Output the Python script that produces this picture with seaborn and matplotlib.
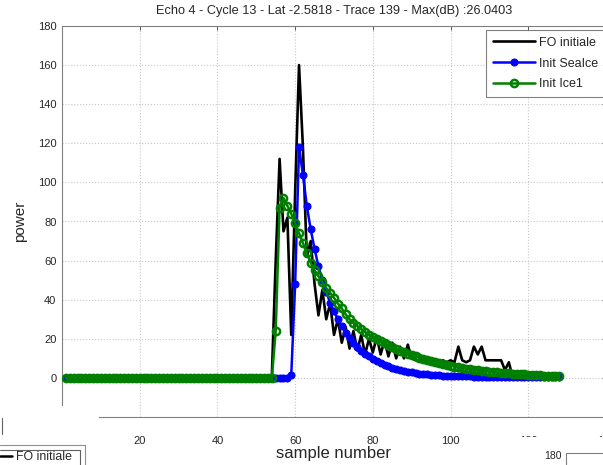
import numpy as np
import pandas as pd
import matplotlib
matplotlib.use("Agg")
import matplotlib.pyplot as plt
import seaborn as sns
from matplotlib.patches import Rectangle
from matplotlib.lines import Line2D

# data (samples 1..128)
samples = list(range(1, 129))

fo_initiale = [
    0, 0, 0, 0, 0, 0, 0, 0, 0, 0, 0, 0, 0, 0, 0, 0, 0, 0, 0, 0,
    0, 0, 0, 0, 0, 0, 0, 0, 0, 0, 0, 0, 0, 0, 0, 0, 0, 0, 0, 0,
    0, 0, 0, 0, 0, 0, 0, 0, 0, 0, 0, 0, 0,
    1, 60, 112, 75, 82, 22, 95, 160, 118, 62, 70, 48, 32, 45, 30, 38,
    22, 30, 18, 26, 15, 24, 14, 22, 12, 20, 13, 21, 12, 19, 11, 18,
    10, 16, 10, 17, 10, 9, 9, 9, 9, 10, 9, 8, 9, 8, 9, 8,
    16, 9, 8, 9, 16, 12, 16, 9, 9, 9, 9, 9, 4, 8, 0,
    0, 0, 0, 0, 0, 0, 0, 0, 0, 0, 0, 0,
]

init_seaice = [
    0, 0, 0, 0, 0, 0, 0, 0, 0, 0, 0, 0, 0, 0, 0, 0, 0, 0, 0, 0,
    0, 0, 0, 0, 0, 0, 0, 0, 0, 0, 0, 0, 0, 0, 0, 0, 0, 0, 0, 0,
    0, 0, 0, 0, 0, 0, 0, 0, 0, 0, 0, 0, 0, 0, 0, 0, 0, 0,
    1.5, 48, 118, 104, 88, 76, 66, 57, 50, 44, 38.5, 34, 30, 26.5,
    23, 20.5, 18, 16, 14, 12.4, 11, 9.7, 8.6, 7.6, 6.7, 5.9, 5.2,
    4.6, 4.1, 3.6, 3.2, 2.8, 2.5, 2.2, 2.0, 1.8, 1.6, 1.4, 1.3,
    1.2, 1.1, 1.0,
    0.9, 0.9, 0.8, 0.8, 0.8, 0.7, 0.7, 0.7, 0.7, 0.6, 0.6, 0.6,
    0.6, 0.6, 0.5, 0.5, 0.5, 0.5, 0.5, 0.5, 0.5, 0.5, 0.4, 0.4,
    0.4, 0.4, 0.4, 0.4,
]

init_ice1 = [
    0, 0, 0, 0, 0, 0, 0, 0, 0, 0, 0, 0, 0, 0, 0, 0, 0, 0, 0, 0,
    0, 0, 0, 0, 0, 0, 0, 0, 0, 0, 0, 0, 0, 0, 0, 0, 0, 0, 0, 0,
    0, 0, 0, 0, 0, 0, 0, 0, 0, 0, 0, 0, 0, 0,
    24, 87, 92, 88, 84, 79, 74, 69, 64, 59, 55, 52, 49, 46, 43.5,
    41, 38, 35.5, 32.5, 30, 28, 26.5, 25, 23.5, 22, 21, 19.8, 18.7,
    17.7, 16.7, 15.7, 14.8, 14, 13.2, 12.4, 11.7, 11, 10.4, 9.8,
    9.2, 8.6, 8.1, 7.6, 7.1, 6.6, 6.2, 5.8, 5.4, 5.1, 4.8, 4.5,
    4.2, 3.9, 3.6, 3.4, 3.2, 3.0, 2.8, 2.6, 2.4, 2.3, 2.1, 2.0,
    1.9, 1.8, 1.6, 1.5, 1.4, 1.3, 1.2, 1.1, 1.0, 0.9, 0.8,
]

x_ticks = [20, 40, 60, 80, 100, 120, 140]
y_ticks = [0, 20, 40, 60, 80, 100, 120, 140, 160, 180]
title = "Echo 4 - Cycle 13 - Lat -2.5818 - Trace 139 - Max(dB) :26.0403"

df = pd.DataFrame({
    "sample": samples,
    "FO initiale": fo_initiale,
    "Init SeaIce": init_seaice,
    "Init Ice1": init_ice1,
})

sns.set_theme(style="white")
plt.rcParams["font.family"] = ["Liberation Sans", "DejaVu Sans"]

W, H = 603, 465
fig = plt.figure(figsize=(W / 100, H / 100), dpi=100)
fig.patch.set_facecolor("white")


def fx(x):
    return x / W


def fy(y):
    return 1 - y / H


# axes box (right edge runs a little past the picture, like the reference)
ax = fig.add_axes([fx(62), fy(417), fx(606) - fx(62), fy(26) - fy(417)])

sns.lineplot(data=df, x="sample", y="FO initiale", ax=ax, color="black",
             linewidth=1.9, label="FO initiale", zorder=3)
sns.lineplot(data=df, x="sample", y="Init SeaIce", ax=ax, color="#0000ff",
             linewidth=1.8, marker="o", markersize=5, markeredgewidth=0.8,
             markeredgecolor="#0000ff", label="Init SeaIce", zorder=4)
sns.lineplot(data=df, x="sample", y="Init Ice1", ax=ax, color="#008000",
             linewidth=1.8, marker="o", markersize=5.2, markerfacecolor="none",
             markeredgewidth=1.8, markeredgecolor="#008000",
             label="Init Ice1", zorder=5)

ax.set_xlim(0, 140)
ax.set_ylim(-20, 180)
ax.set_xticks(x_ticks)
ax.set_yticks(y_ticks)
ax.grid(True, color="#c8c8c8", linestyle=":", linewidth=0.8)
ax.tick_params(direction="in", length=3, width=0.6, colors="#404040",
               labelcolor="#262626", labelsize=8, top=True, right=True)
ax.tick_params(axis="x", pad=14)
ax.tick_params(axis="y", pad=4)
for s in ax.spines.values():
    s.set_color("#808080")
    s.set_linewidth(0.8)

ax.set_xlabel("sample number", fontsize=12, color="#262626", labelpad=0)
ax.set_ylabel("power", fontsize=11, color="#262626", labelpad=8)
ax.set_title(title, fontsize=9.2, color="#262626", pad=9)

leg = ax.legend(loc="upper right", bbox_to_anchor=(fx(605), fy(30)),
                bbox_transform=fig.transFigure, fontsize=9, frameon=True,
                fancybox=False, borderpad=0.55, handlelength=3.4,
                labelspacing=0.7, handletextpad=0.3, borderaxespad=0)
leg.get_frame().set_edgecolor("#606060")
leg.get_frame().set_linewidth(0.8)
leg.set_zorder(10)

# pieces of an overlapping window in the lower corners of the screenshot
fig.patches.append(Rectangle((fx(0), fy(465)), fx(99), fy(406) - fy(465),
                             transform=fig.transFigure, facecolor="white",
                             edgecolor="none", zorder=20))
fig.patches.append(Rectangle((fx(505), fy(465)), fx(603) - fx(505),
                             fy(437) - fy(465), transform=fig.transFigure,
                             facecolor="white", edgecolor="none", zorder=20))

frag = dict(transform=fig.transFigure, zorder=21)
fig.lines.append(Line2D([fx(2), fx(2)], [fy(418), fy(434)], color="#606060",
                        linewidth=0.8, **frag))
fig.lines.append(Line2D([fx(0), fx(85), fx(85)], [fy(445), fy(445), fy(465)],
                        color="#909090", linewidth=0.8, **frag))
fig.lines.append(Line2D([fx(0), fx(80), fx(80)], [fy(450), fy(450), fy(465)],
                        color="#606060", linewidth=0.8, **frag))
fig.lines.append(Line2D([fx(0), fx(12)], [fy(456), fy(456)], color="black",
                        linewidth=1.8, **frag))
fig.text(fx(16), fy(457), "FO initiale", fontsize=8.8, color="#262626",
         va="center", ha="left", zorder=21)

fig.text(fx(562), fy(456), "180", fontsize=7.5, color="#262626",
         va="center", ha="right", zorder=21)
fig.lines.append(Line2D([fx(566), fx(566)], [fy(465), fy(453)],
                        color="#808080", linewidth=0.8, **frag))
fig.lines.append(Line2D([fx(566), fx(603)], [fy(453), fy(453)],
                        color="#808080", linewidth=0.8, **frag))

fig.savefig("out.png", dpi=100, facecolor="white")
plt.close(fig)
print("saved out.png")
